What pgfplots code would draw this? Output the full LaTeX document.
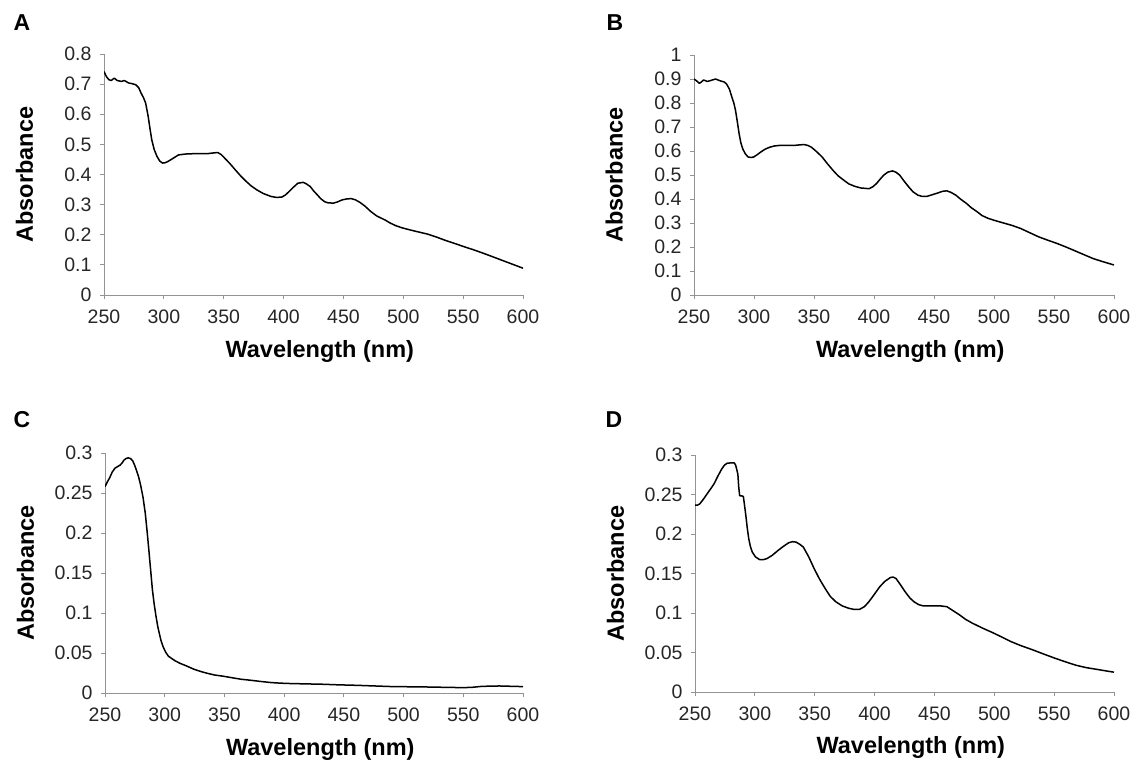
\documentclass[border=0pt]{standalone}
\usepackage{fontspec}
\setmainfont{Liberation Sans}
\usepackage{pgfplots}
\pgfplotsset{compat=1.18}

\pgfplotsset{
  spec/.style={
    scale only axis,
    axis lines=left,
    axis line style={-, draw=gray!85, line width=0.8pt},
    xmin=250, xmax=600, xtick={250,300,...,600},
    tick align=outside, major tick length=4pt,
    tick style={draw=gray!85, line width=0.8pt},
    ticklabel style={font=\fontsize{19.5}{21}\selectfont, text=black!85},
    xticklabel style={yshift=-7pt},
    yticklabel style={xshift=-5pt},
    /pgf/number format/assume math mode=true,
    /pgf/number format/fixed, /pgf/number format/precision=2,
    scaled y ticks=false,
    label style={font=\fontsize{23.5}{26}\selectfont\bfseries},
    xlabel={Wavelength (nm)}, ylabel={Absorbance},
    xlabel style={at={(axis description cs:0.515,-0.236)}, anchor=center},
    ylabel style={at={(axis description cs:-0.19,0.5)}, anchor=center},
    cycle list={{black}},
    every axis plot/.append style={line width=1.5pt, line join=round, no marks},
  },
}
\tikzset{panel/.style={font=\fontsize{23}{25}\selectfont\bfseries}}

\begin{document}
\begin{tikzpicture}
\useasboundingbox (0pt,0pt) rectangle (1135pt,-769pt);

% A
\begin{axis}[spec, at={(104pt,-295pt)}, anchor=south west, width=419pt, height=241pt,
  ymin=0, ymax=0.8, ytick={0,0.1,...,0.8}]
\addplot coordinates {
(250,0.742)(252,0.725)(254,0.715)(256,0.712)(258.6,0.720)(261,0.712)(264.6,0.709)
(267,0.712)(270.5,0.704)(273,0.702)(276.5,0.698)(279,0.688)(281,0.670)(283,0.655)
(284.8,0.637)(286.9,0.593)(288.5,0.550)(289.9,0.515)(292,0.482)(294.3,0.460)
(296.5,0.445)(298.8,0.438)(301,0.439)(303.3,0.443)(307,0.452)(312.2,0.465)
(318,0.468)(324.1,0.469)(330,0.469)(336,0.469)(340,0.471)(345,0.473)(348,0.466)
(350.9,0.454)(355,0.437)(359.8,0.415)(364,0.396)(368.8,0.377)(373,0.362)
(377.7,0.349)(383,0.337)(389.6,0.327)(394,0.324)(398.5,0.325)(401.5,0.332)
(404.5,0.343)(408,0.357)(411.9,0.371)(416.4,0.374)(419,0.369)(422.3,0.360)
(425,0.346)(428.3,0.332)(431,0.320)(434.2,0.310)(437,0.306)(441.7,0.305)
(445,0.309)(449.1,0.316)(453,0.319)(456.5,0.320)(460,0.316)(464,0.307)
(468,0.295)(472.9,0.277)(478,0.262)(484.8,0.249)(489,0.239)(493.8,0.230)
(499,0.223)(505.7,0.216)(513,0.209)(520.5,0.202)(528,0.192)(535.4,0.181)
(543,0.171)(550.3,0.161)(558,0.151)(565.2,0.141)(572,0.131)(580,0.119)
(586,0.110)(592,0.101)(600,0.089)};
\end{axis}

% B
\begin{axis}[spec, at={(694pt,-295pt)}, anchor=south west, width=420pt, height=240pt,
  ymin=0, ymax=1, ytick={0,0.1,...,1.0}]
\addplot coordinates {
(250,0.900)(252,0.893)(254.5,0.882)(256,0.887)(258,0.896)(261,0.890)(263.5,0.893)
(266,0.897)(268,0.900)(270,0.896)(272.6,0.891)(275,0.888)(277,0.880)(279.5,0.858)
(281.6,0.824)(283.2,0.800)(284.6,0.769)(286,0.725)(287.6,0.672)(289,0.635)
(290.6,0.609)(292.8,0.588)(295.1,0.575)(297.5,0.573)(299.7,0.575)(302.5,0.584)
(305.7,0.596)(309,0.607)(313.2,0.616)(317,0.621)(320.7,0.623)(326,0.623)
(332.8,0.623)(337,0.625)(341.8,0.627)(345,0.623)(347.8,0.616)(352,0.598)
(356.8,0.575)(361,0.548)(365.9,0.519)(370,0.497)(374.9,0.478)(379,0.463)
(383.9,0.453)(389,0.446)(395.9,0.443)(399,0.451)(402,0.464)(405,0.482)
(408,0.499)(411.5,0.512)(415.5,0.517)(418.5,0.511)(421.5,0.499)(425,0.475)
(429,0.450)(432.5,0.430)(436.6,0.416)(440,0.411)(444.1,0.411)(448,0.417)
(453.1,0.425)(457,0.432)(460.6,0.434)(464,0.428)(468.2,0.416)(472,0.400)
(477.2,0.381)(481,0.364)(486.2,0.346)(490,0.331)(495.3,0.319)(501,0.310)
(507.3,0.301)(515,0.290)(522.3,0.277)(530,0.259)(537.4,0.242)(545,0.228)
(552.4,0.215)(560,0.200)(567.5,0.184)(575,0.168)(582.5,0.152)(590,0.140)
(600,0.125)};
\end{axis}

% C
\begin{axis}[spec, at={(105pt,-693pt)}, anchor=south west, width=418pt, height=240pt,
  ymin=0, ymax=0.3, ytick={0,0.05,...,0.3}]
\addplot coordinates {
(250,0.258)(252,0.264)(253.9,0.269)(256,0.276)(258.3,0.281)(260.5,0.283)
(262.8,0.285)(264.5,0.288)(265.8,0.291)(267.5,0.293)(269.4,0.294)(271.5,0.293)
(273.3,0.290)(275,0.284)(276.2,0.279)(278,0.271)(279.8,0.260)(281.8,0.245)
(283.7,0.225)(285.2,0.203)(286.7,0.179)(288.2,0.154)(289.7,0.129)(291.2,0.111)
(292.7,0.096)(294.2,0.083)(295.7,0.073)(297,0.065)(298.6,0.058)(300.8,0.051)
(303.1,0.046)(306,0.043)(309,0.040)(313,0.037)(318,0.034)(324,0.030)
(329.9,0.027)(336,0.0245)(341.8,0.0225)(349,0.021)(356.7,0.019)(364,0.0172)
(371.6,0.016)(380,0.0145)(389.5,0.013)(395,0.0125)(401.5,0.012)(415,0.0115)
(431.3,0.011)(446,0.0102)(461.1,0.0096)(476,0.0088)(490.9,0.008)(505,0.0078)
(520.7,0.0075)(535,0.0071)(550.5,0.0067)(558,0.0072)(565.4,0.0083)(573,0.0086)
(580.3,0.0088)(590,0.0084)(600,0.008)};
\end{axis}

% D
\begin{axis}[spec, at={(695pt,-692pt)}, anchor=south west, width=419pt, height=237pt,
  ymin=0, ymax=0.3, ytick={0,0.05,...,0.3}]
\addplot coordinates {
(250,0.2367)(252,0.2365)(253.9,0.238)(257,0.244)(260,0.2506)(263,0.257)
(266.1,0.264)(269,0.273)(272.2,0.282)(274.5,0.287)(276.7,0.2895)(279.5,0.290)
(282.8,0.290)(284,0.287)(285,0.281)(285.8,0.2757)(286.5,0.260)(287.3,0.2485)
(289,0.2482)(290.4,0.2475)(291.4,0.236)(292.5,0.223)(293.7,0.207)(294.9,0.194)
(296.3,0.184)(297.9,0.177)(300.5,0.171)(304,0.1676)(307,0.1675)(310.1,0.1689)
(314.5,0.173)(319.2,0.179)(323.5,0.184)(328.3,0.189)(331.5,0.1903)(334.4,0.1898)
(337.5,0.187)(340.5,0.1835)(345,0.171)(349.6,0.156)(354,0.143)(358.7,0.131)
(363,0.121)(367.8,0.114)(373,0.109)(378.4,0.106)(383,0.1045)(387.5,0.1047)
(391.5,0.108)(395.1,0.114)(399.5,0.123)(404.2,0.133)(408.5,0.140)(413.3,0.145)
(415.5,0.1455)(417.9,0.1437)(421.5,0.136)(425.5,0.127)(429.5,0.119)(433.1,0.114)
(437,0.1105)(440.7,0.109)(445,0.109)(449.8,0.109)(455,0.109)(460.4,0.108)
(465.5,0.103)(471,0.0976)(476,0.092)(481.6,0.0872)(490,0.081)(498.3,0.0754)
(506,0.0698)(513.5,0.0641)(522,0.0588)(531.7,0.0536)(541,0.0482)(549.9,0.0432)
(559,0.0384)(568.2,0.0339)(577,0.0308)(586.4,0.0285)(593,0.0268)(600,0.0251)};
\end{axis}

\node[panel] at (22pt,-23pt) {A};
\node[panel] at (615pt,-23pt) {B};
\node[panel] at (22pt,-420pt) {C};
\node[panel] at (614pt,-420pt) {D};
\end{tikzpicture}
\end{document}
